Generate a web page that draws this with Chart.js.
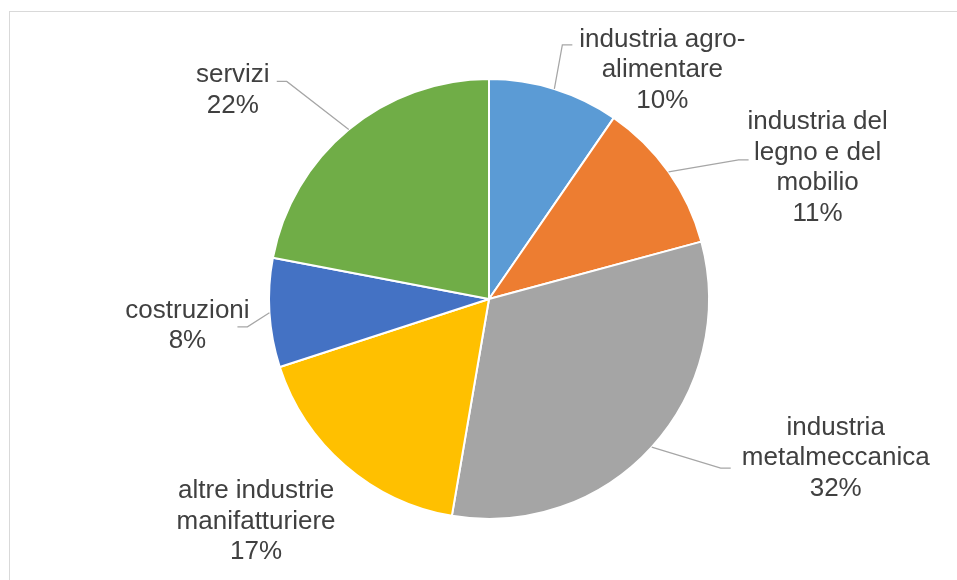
<!DOCTYPE html>
<html>
<head>
<meta charset="utf-8">
<script src="https://cdn.jsdelivr.net/npm/chart.js@4/dist/chart.umd.min.js"></script>
<style>
    html, body { margin: 0; padding: 0; background: #fff; overflow: hidden; }
    #wrap { position: relative; width: 957px; height: 580px; }
    #frame { position: absolute; left: 9px; top: 11px; width: 1000px; height: 1000px; border: 1px solid #d9d9d9; }
    #pieChart { position: absolute; left: 0; top: 0; }
</style>
</head>
<body>
<div id="wrap">
    <div id="frame"></div>
    <canvas id="pieChart" width="957" height="580"></canvas>
</div>
<script>
// categories (split into the lines shown on the chart)
const categories = [
    ['industria agro-', 'alimentare'],
    ['industria del', 'legno e del', 'mobilio'],
    ['industria', 'metalmeccanica'],
    ['altre industrie', 'manifatturiere'],
    ['costruzioni'],
    ['servizi']
];
// share of each sector, %
const shares = [9.6, 11.2, 31.9, 17.3, 8.0, 22.0];
const sliceColors = ['#5b9bd5', '#ed7d31', '#a5a5a5', '#ffc000', '#4472c4', '#70ad47'];

// where each label sits relative to the outer middle of its slice,
// and where the leader line ends relative to the label centre
const labelLayout = [
    { dx: 108, dy: -19, lx: -90, ly: -25 },
    { dx: 149, dy: -4, lx: -69, ly: -8 },
    { dx: 184, dy: 11, lx: -105, ly: 10 },
    { dx: -89, dy: 56, lx: null, ly: null },
    { dx: -82, dy: 13, lx: 50, ly: 1 },
    { dx: -116, dy: -39, lx: 44, ly: -9 }
];

const outsideLabels = {
    id: 'outsideLabels',
    afterDatasetsDraw(chart, args, opts) {
        const ctx = chart.ctx;
        const meta = chart.getDatasetMeta(0);
        const values = chart.data.datasets[0].data;
        const total = values.reduce((a, b) => a + b, 0);

        ctx.save();
        ctx.font = opts.fontSize + 'px "Liberation Sans", Arial, sans-serif';
        ctx.textAlign = 'center';
        ctx.textBaseline = 'middle';

        meta.data.forEach((arc, i) => {
            const p = arc.getProps(['x', 'y', 'startAngle', 'endAngle', 'outerRadius'], true);
            const mid = (p.startAngle + p.endAngle) / 2;
            const ex = p.x + Math.cos(mid) * p.outerRadius;
            const ey = p.y + Math.sin(mid) * p.outerRadius;
            const lay = opts.layout[i];
            const cx = ex + lay.dx;
            const cy = ey + lay.dy;

            // leader line
            if (lay.lx !== null) {
                const endX = cx + lay.lx;
                const endY = cy + lay.ly;
                const elbowX = endX + (ex < endX ? -10 : 10);
                ctx.strokeStyle = opts.leaderColor;
                ctx.lineWidth = 1.25;
                ctx.beginPath();
                ctx.moveTo(ex, ey);
                ctx.lineTo(elbowX, endY);
                ctx.lineTo(endX, endY);
                ctx.stroke();
            }

            const lines = [].concat(chart.data.labels[i]);
            lines.push(Math.round(values[i] / total * 100) + '%');
            const top = cy - (lines.length - 1) * opts.lineHeight / 2;
            ctx.fillStyle = opts.color;
            lines.forEach((txt, k) => ctx.fillText(txt, cx, top + k * opts.lineHeight));
        });
        ctx.restore();
    }
};

new Chart(document.getElementById('pieChart'), {
    type: 'pie',
    data: {
        labels: categories,
        datasets: [{
            data: shares,
            backgroundColor: sliceColors,
            borderColor: '#ffffff',
            borderWidth: 2
        }]
    },
    options: {
        responsive: false,
        animation: false,
        layout: {
            padding: { left: 120, right: 99, top: 78, bottom: 60 }
        },
        plugins: {
            legend: { display: false },
            tooltip: { enabled: false },
            outsideLabels: {
                layout: labelLayout,
                fontSize: 26,
                lineHeight: 30.5,
                color: '#404040',
                leaderColor: '#a6a6a6'
            }
        }
    },
    plugins: [outsideLabels]
});
</script>
</body>
</html>
